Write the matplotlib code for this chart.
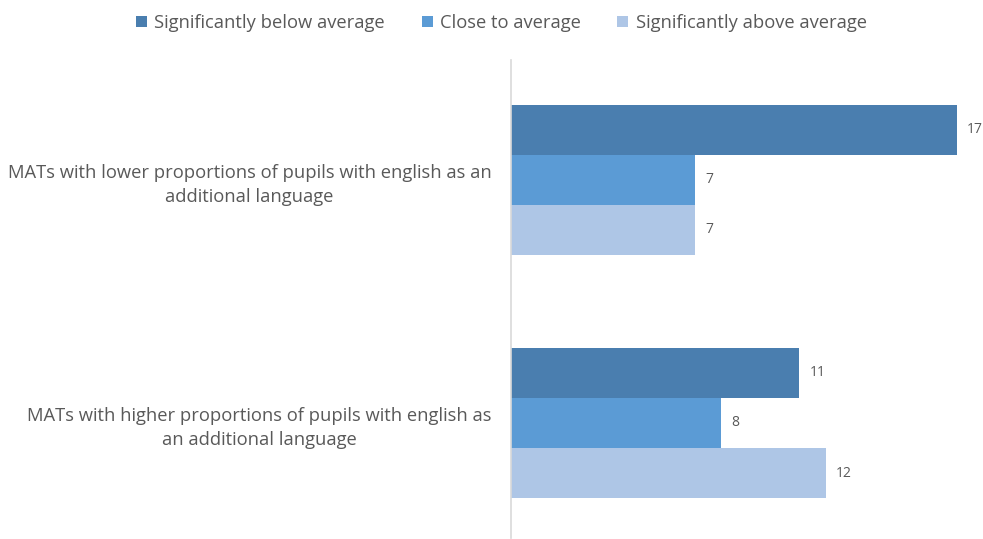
import numpy as np
import matplotlib.pyplot as plt

categorias = [
    "MATs with lower proportions of pupils with english as an\nadditional language",
    "MATs with higher proportions of pupils with english as\nan additional language",
]
series = ["Significantly below average", "Close to average", "Significantly above average"]
valores = [
    [17, 11],  # abaixo da média
    [7, 8],    # perto da média
    [7, 12],   # acima da média
]
cores = ["#4A7EAF", "#5B9BD5", "#AEC6E6"]

plt.rcParams["font.family"] = ["Open Sans", "DejaVu Sans"]
cinza = "#595959"

fig = plt.figure(figsize=(9.83, 5.39), dpi=100)
ax = fig.add_axes([0.5198, 0.002, 0.4802, 0.887])

altura = 0.206
y = np.arange(len(categorias))
for i, (nome, vals, cor) in enumerate(zip(series, valores, cores)):
    pos = y + (i - 1) * altura
    barras = ax.barh(pos, vals, height=altura, color=cor, label=nome)
    for b, v in zip(barras, vals):
        ax.text(b.get_width() + 0.4, b.get_y() + b.get_height() / 2, str(v),
                va="center", ha="left", fontsize=10, color=cinza)

ax.set_xlim(0, 18)
ax.set_ylim(1.473, -0.494)
ax.set_yticks(y)
ax.set_yticklabels(categorias, fontsize=13.2, color=cinza, ha="right",
                   multialignment="center", linespacing=1.45)
ax.tick_params(axis="y", length=0, pad=14)
for t in ax.get_yticklabels():
    t.set_y(t.get_position()[1])
ax.set_xticks([])
for lado in ["top", "right", "bottom"]:
    ax.spines[lado].set_visible(False)
ax.spines["left"].set_color("#D9D9D9")
ax.spines["left"].set_linewidth(1.2)

fig.legend(loc="upper center", bbox_to_anchor=(0.51, 1.005), ncol=3, frameon=False,
           fontsize=13.2, labelcolor=cinza, handlelength=0.6, handleheight=0.6,
           handletextpad=0.4, columnspacing=2.0)

fig.savefig("out.png", dpi=100)
